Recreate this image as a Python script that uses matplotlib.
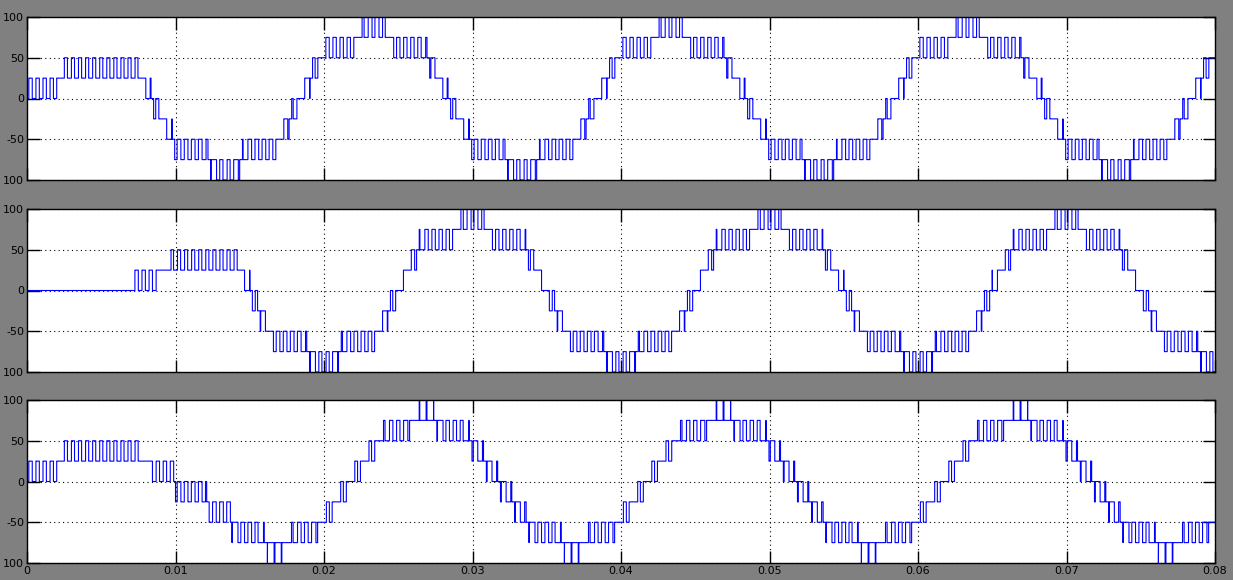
import numpy as np
import matplotlib
matplotlib.use("Agg")
import matplotlib.pyplot as plt

# ---- nine-level inverter, level-shifted (phase disposition) PWM -----------
fundamental_hz = 50.0
carrier_hz = 2100.0         # triangular carriers, all in phase
level_step = 25.0           # height of one voltage level
n_levels = 9                # -100 ... 100
t_stop = 0.08
dt = 1e-6

# reference: clipped sine (flat shoulders) with a narrow crest at each peak
base_amplitude = [120.0, 120.0, 85.0]
shoulder_level = [62.0, 62.0, 62.0]
crest_amplitude = [90.0, 90.0, 78.0]
crest_halfwidth = [0.00145, 0.00145, 0.00145]   # seconds
peak_time = [0.0034, 0.0100, 0.0068]

# soft-start reference segments: (start, end, reference value)
start_a = [(0.0, 0.0020, 12.0), (0.0020, 0.0025, 25.0), (0.0025, 0.0073, 36.0)]
start_b = [(0.0, 0.0072, 0.0), (0.0072, 0.0087, 12.0), (0.0087, 0.0097, 25.0),
           (0.0097, 0.0143, 36.0)]
start_c = [(0.0, 0.0020, 12.0), (0.0020, 0.0025, 25.0), (0.0025, 0.0077, 36.0),
           (0.0077, 0.0083, 25.0), (0.0083, 0.0100, 12.0), (0.0100, 0.0121, -12.0),
           (0.0121, 0.0138, -37.0)]
start_segments = [start_a, start_b, start_c]

x_ticks = [0.0, 0.01, 0.02, 0.03, 0.04, 0.05, 0.06, 0.07, 0.08]
x_tick_labels = ["0", "0.01", "0.02", "0.03", "0.04", "0.05", "0.06", "0.07", "0.08"]
y_ticks = [-100, -50, 0, 50, 100]
y_tick_labels = ["100", "-50", "0", "50", "100"]


def reference(tt, i):
    w = 2 * np.pi * fundamental_hz
    theta = np.angle(np.exp(1j * w * (tt - peak_time[i])))      # -pi..pi
    r = np.clip(base_amplitude[i] * np.cos(theta), -shoulder_level[i], shoulder_level[i])
    th0 = w * crest_halfwidth[i]
    rise = crest_amplitude[i] - shoulder_level[i]
    r = r + rise * np.clip(1 - (theta / th0) ** 2, 0, None)
    r = r - rise * np.clip(1 - ((np.pi - np.abs(theta)) / th0) ** 2, 0, None)
    for t0, t1, v in start_segments[i]:
        r = np.where((tt >= t0) & (tt < t1), v, r)
    return r


def phase_output(t, i):
    ref = reference(t, i)
    u = t * carrier_hz
    tri01 = np.abs(2.0 * (u - np.floor(u)) - 1.0)        # 1 -> 0 -> 1 per period
    v_min = -level_step * (n_levels - 1) / 2
    out = np.full_like(t, v_min)
    for j in range(n_levels - 1):
        carrier = v_min + level_step * (j + tri01)
        out += level_step * (ref > carrier)
    return out


t = np.arange(0.0, t_stop + dt, dt)
waves = [phase_output(t, i) for i in range(3)]

# ---- figure ----------------------------------------------------------------
fig = plt.figure(figsize=(12.33, 5.80), dpi=100, facecolor="#808080")
left, width = 27 / 1233, 1188 / 1233
rows = [(17, 180), (209, 372), (400, 563)]

for i, (top, bot) in enumerate(rows):
    ax = fig.add_axes([left, 1 - bot / 580, width, (bot - top) / 580])
    ax.set_facecolor("white")
    ax.plot(t, waves[i], color="#0000ff", lw=0.8, drawstyle="steps-post")
    ax.set_xlim(0, 0.08)
    ax.set_ylim(-100, 100)
    ax.set_xticks(x_ticks)
    ax.set_yticks(y_ticks)
    ax.set_yticklabels(y_tick_labels)
    if i == 2:
        ax.set_xticklabels(x_tick_labels)
    else:
        ax.set_xticklabels([])
    ax.grid(True, color="black", linestyle=(0, (1, 3)), linewidth=0.8)
    ax.tick_params(direction="in", length=9, width=1, top=True, right=True,
                   labelsize=8, colors="black", pad=2)
    for sp in ax.spines.values():
        sp.set_color("black")
        sp.set_linewidth(1.0)

fig.savefig("out.png", dpi=100, facecolor=fig.get_facecolor())
